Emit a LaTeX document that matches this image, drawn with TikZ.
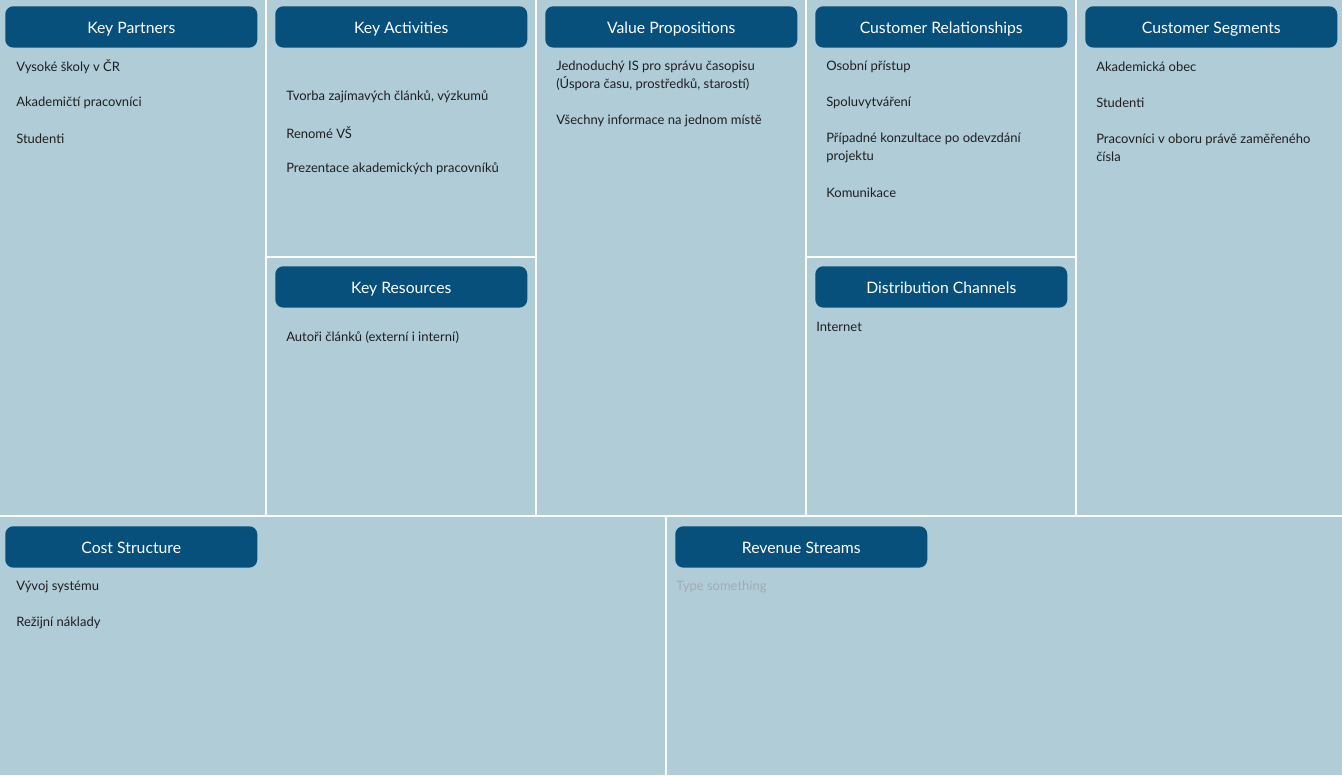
\documentclass[tikz,border=0pt]{standalone}
\usepackage{fontspec}
\setmainfont{Lato}
\usepackage{xcolor}
\usepackage{tikz}

\definecolor{canvasbg}{HTML}{AFCCD7}
\definecolor{headblue}{HTML}{07507B}
\definecolor{hintgray}{HTML}{A3ACB0}

\begin{document}
\begin{tikzpicture}[x=0.75pt, y=-0.75pt,
    header/.style={rectangle, fill=headblue, text=white, rounded corners=6pt, anchor=north west, inner sep=0pt, minimum width=189pt, minimum height=31pt, text height=9.6pt, text depth=0.4pt, font=\fontsize{11.8}{14}\selectfont},
    item/.style={anchor=west, align=left, inner sep=0pt, yshift=-0.8pt, text=black!88, font=\fontsize{9.75}{13.5}\selectfont},
    divider/.style={draw=white, line width=1.5pt}]
    % canvas
    \fill[canvasbg] (0,0) rectangle (1342,775);
    \useasboundingbox (0,0) rectangle (1342,775);

    % white grid
    \draw[divider] (266,0) -- (266,516);
    \draw[divider] (536,0) -- (536,516);
    \draw[divider] (806,0) -- (806,516);
    \draw[divider] (1076,0) -- (1076,516);
    \draw[divider] (266,257) -- (536,257);
    \draw[divider] (806,257) -- (1076,257);
    \draw[divider] (0,516) -- (1342,516);
    \draw[divider] (666,516) -- (666,775);

    % headers
    \node[header] (partners) at (5,6) {Key Partners};
    \node[header] (activities) at (275,6) {Key Activities};
    \node[header] (propositions) at (545,6) {Value Propositions};
    \node[header] (relationships) at (815,6) {Customer Relationships};
    \node[header] (segments) at (1085,6) {Customer Segments};
    \node[header] (resources) at (275,266) {Key Resources};
    \node[header] (channels) at (815,266) {Distribution Channels};
    \node[header] (costs) at (5,526) {Cost Structure};
    \node[header] (revenue) at (675,526) {Revenue Streams};

    % key partners
    \node[item] (kp1) at (16,66) {Vysoké školy v ČR};
    \node[item] (kp2) at (16,102) {Akademičtí pracovníci};
    \node[item] (kp3) at (16,138) {Studenti};

    % key activities
    \node[item] (ka1) at (286,96) {Tvorba zajímavých článků, výzkumů};
    \node[item] (ka2) at (286,132) {Renomé VŠ};
    \node[item] (ka3) at (286,168) {Prezentace akademických pracovníků};

    % key resources
    \node[item] (kr1) at (286,336) {Autoři článků (externí i interní)};

    % value propositions
    \node[item] (vp1) at (556,75) {Jednoduchý IS pro správu časopisu\\(Úspora času, prostředků, starostí)};
    \node[item] (vp2) at (556,120) {Všechny informace na jednom místě};

    % customer relationships
    \node[item] (cr1) at (826,66) {Osobní přístup};
    \node[item] (cr2) at (826,102) {Spoluvytváření};
    \node[item] (cr3) at (826,147) {Případné konzultace po odevzdání\\projektu};
    \node[item] (cr4) at (826,192) {Komunikace};

    % distribution channels
    \node[item] (dc1) at (816,326) {Internet};

    % customer segments
    \node[item] (cs1) at (1096,66) {Akademická obec};
    \node[item] (cs2) at (1096,102) {Studenti};
    \node[item] (cs3) at (1096,147) {Pracovníci v oboru právě zaměřeného\\čísla};

    % cost structure
    \node[item] (co1) at (16,586) {Vývoj systému};
    \node[item] (co2) at (16,622) {Režijní náklady};

    % revenue streams
    \node[item, text=hintgray] (rs1) at (676,586) {Type something};
\end{tikzpicture}
\end{document}
